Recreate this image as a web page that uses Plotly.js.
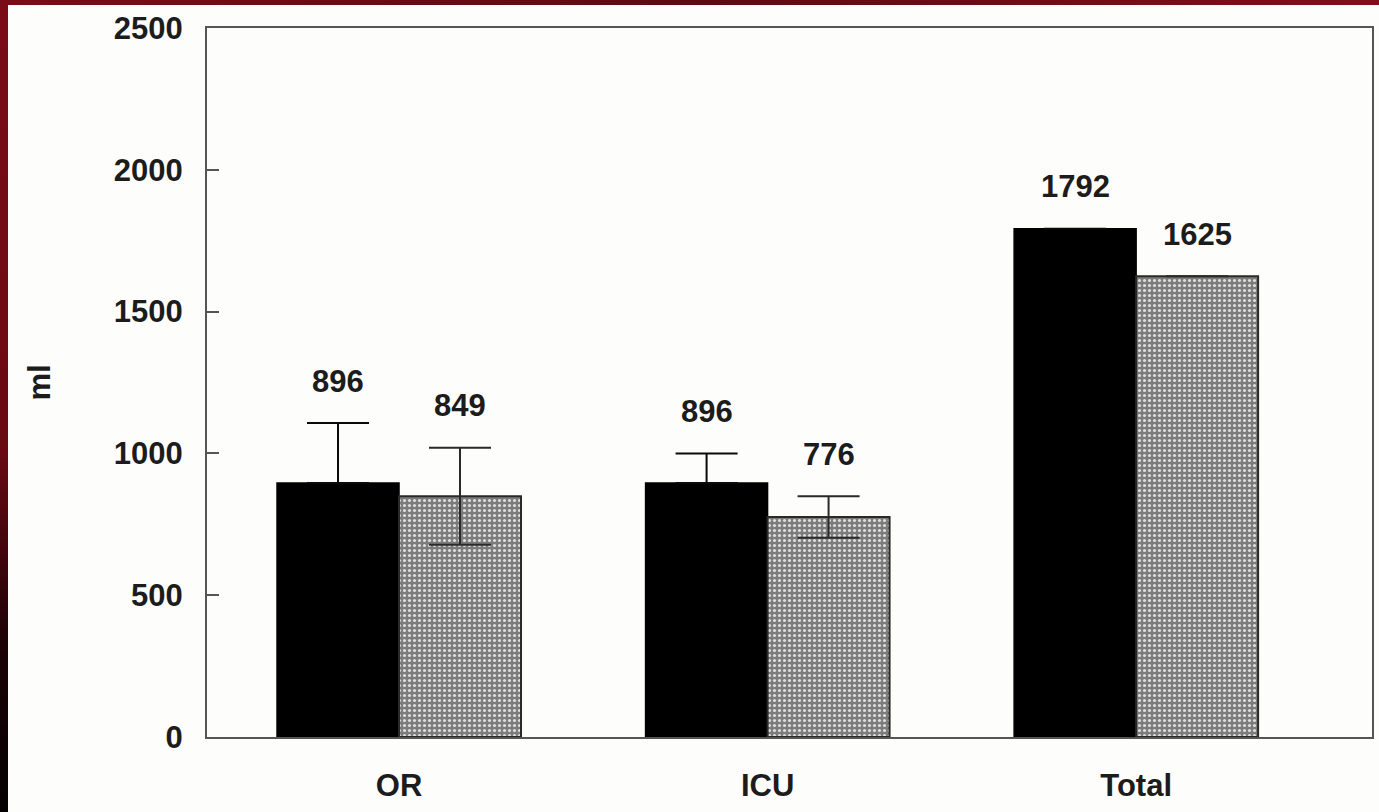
<!DOCTYPE html>
<html>
<head>
<meta charset="utf-8">
<script src="https://cdn.plot.ly/plotly-3.0.1.min.js"></script>
<style>
  html, body { margin: 0; padding: 0; width: 1379px; height: 812px; overflow: hidden; }
  body {
    background: linear-gradient(to bottom, #7a0c16 0%, #6a0a13 55%, #1a0205 80%, #050102 100%);
  }
  #topband {
    position: absolute; left: 0; top: 0; width: 1379px; height: 5px;
    background: linear-gradient(to right, #7a0c16 0%, #5e0a12 50%, #820e19 100%);
  }
  #chart {
    position: absolute; left: 8px; top: 5px; width: 1371px; height: 807px;
    background: #fdfdfb;
  }
</style>
</head>
<body>
<div id="topband"></div>
<div id="chart"></div>
<script>
// Blood loss (ml) by phase: operating room, intensive care unit, and total
const categories = ['OR', 'ICU', 'Total'];
const groupA = [896, 896, 1792];      // solid black bars
const groupAErr = [211, 104, null];
const groupB = [849, 776, 1625];      // shaded bars
const groupBErr = [171, 73, null];
const yTicks = [0, 500, 1000, 1500, 2000, 2500];

const pos = categories.map((_, i) => i);
const barW = 0.331;

const fontFam = '"Liberation Sans", Arial, Helvetica, sans-serif';
const ink = '#1c1c1c';

const traceA = {
  type: 'bar', x: pos, y: groupA, width: barW, offset: -barW,
  marker: { color: '#000000', line: { color: '#000000', width: 1.5 } },
  // only the upper whisker shows above a solid bar
  error_y: {
    type: 'data', symmetric: false, array: groupAErr, arrayminus: groupAErr.map(e => (e === null ? null : 0)),
    visible: true, color: '#0a0a0a', thickness: 2, width: 31
  },
  hoverinfo: 'y', showlegend: false
};
const traceB = {
  type: 'bar', x: pos, y: groupB, width: barW, offset: 0,
  marker: {
    color: '#8a8a8a',
    line: { color: '#2a2a2a', width: 2 },
    pattern: { shape: '.', bgcolor: '#7c7c7c', fgcolor: '#dedede', size: 5, solidity: 0.3, fillmode: 'replace' }
  },
  error_y: { type: 'data', array: groupBErr, visible: true, color: '#2a2a2a', thickness: 2, width: 31 },
  hoverinfo: 'y', showlegend: false
};

// value labels above each bar (above the error cap when there is one)
const annotations = [];
function addLabels(vals, errs, dx) {
  vals.forEach((v, i) => {
    annotations.push({
      x: i + dx, y: v + (errs[i] || 0), xref: 'x', yref: 'y',
      text: String(v), showarrow: false, yanchor: 'middle', yshift: 42,
      font: { family: fontFam, size: 31, color: ink, weight: 'bold' }
    });
  });
}
addLabels(groupA, groupAErr, -barW / 2);
addLabels(groupB, groupBErr, barW / 2);

const layout = {
  width: 1371, height: 807,
  margin: { l: 199, r: 7, t: 23, b: 75 },
  paper_bgcolor: '#fdfdfb', plot_bgcolor: '#fdfdfb',
  barmode: 'overlay',
  font: { family: fontFam, color: ink, size: 31, weight: 'bold' },
  xaxis: {
    type: 'linear', range: [-0.521, 2.64],
    tickvals: pos, ticktext: categories, ticks: '',
    showgrid: false, zeroline: false,
    showline: true, mirror: true, linecolor: '#555555', linewidth: 2,
    tickfont: { family: fontFam, size: 31, color: ink, weight: 'bold' },
    ticklabelstandoff: 20
  },
  yaxis: {
    range: [0, 2500], tickvals: yTicks, ticks: 'inside', ticklen: 12, tickwidth: 2, tickcolor: '#555555',
    showgrid: false, zeroline: false,
    showline: true, mirror: true, linecolor: '#555555', linewidth: 2,
    tickfont: { family: fontFam, size: 31, color: ink, weight: 'bold' },
    ticklabelstandoff: 16,
    title: { text: 'ml', standoff: 54, font: { family: fontFam, size: 31, color: ink, weight: 'bold' } }
  },
  annotations: annotations
};

Plotly.newPlot('chart', [traceA, traceB], layout, { displayModeBar: false, staticPlot: true });
</script>
</body>
</html>
